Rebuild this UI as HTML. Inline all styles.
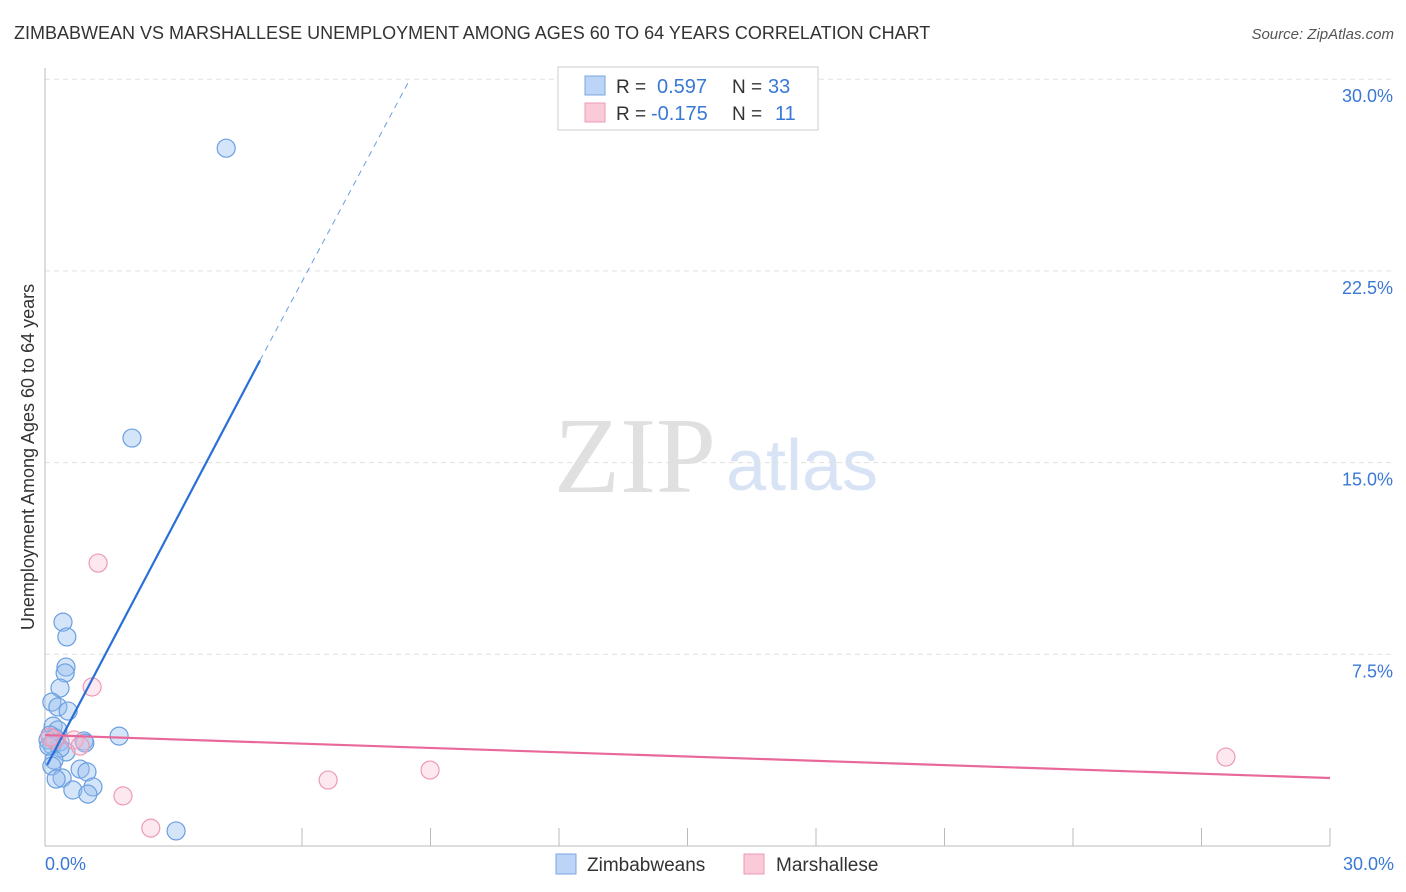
<!DOCTYPE html>
<html><head><meta charset="utf-8"><style>
body{margin:0;background:#fff;font-family:"Liberation Sans",sans-serif;}
svg{display:block}
</style></head><body>
<svg width="1406" height="892" id="chart">
<text x="14" y="39" font-size="18" fill="#333">ZIMBABWEAN VS MARSHALLESE UNEMPLOYMENT AMONG AGES 60 TO 64 YEARS CORRELATION CHART</text>
<text x="1394" y="39" font-size="15" fill="#555" font-style="italic" text-anchor="end">Source: ZipAtlas.com</text>
<text x="635" y="492" font-size="108" fill="#e0e0e0" font-family="Liberation Serif,serif" text-anchor="middle">ZIP</text>
<text x="802" y="490" font-size="72" fill="#d8e4f5" text-anchor="middle">atlas</text>
<text transform="translate(34,457) rotate(-90)" font-size="18" fill="#333" text-anchor="middle">Unemployment Among Ages 60 to 64 years</text>
<g id="grid"></g><g id="marks"></g>
<g>
<rect x="558" y="67" width="260" height="63" fill="#fff" stroke="#ccc"/>
<rect x="585" y="76" width="20" height="19" fill="#bcd4f5" stroke="#7aa6e0"/>
<rect x="585" y="103" width="20" height="19" fill="#fbcad8" stroke="#ee9ab3"/>
<text x="616" y="93" font-size="19" fill="#333">R = <tspan x="657" fill="#3a78d6" font-size="20">0.597</tspan><tspan x="732">N = </tspan><tspan x="768" fill="#3a78d6" font-size="20">33</tspan></text>
<text x="616" y="120" font-size="19" fill="#333">R = <tspan x="651" fill="#3a78d6" font-size="20">-0.175</tspan><tspan x="732">N = </tspan><tspan x="775" fill="#3a78d6" font-size="20">11</tspan></text>
</g>
<g>
<rect x="556" y="854" width="20" height="20" fill="#bcd4f5" stroke="#7aa6e0"/>
<text x="587" y="871" font-size="19" fill="#333">Zimbabweans</text>
<rect x="744" y="854" width="20" height="20" fill="#fbcad8" stroke="#ee9ab3"/>
<text x="776" y="871" font-size="19" fill="#333">Marshallese</text>
</g>
</svg>
<script>
const yTicks=[7.5,15,22.5,30];
const xTickLabels=["0.0%","30.0%"];
const blueX=[4.23,2.03,0.42,0.51,0.49,0.47,0.35,0.16,0.30,0.54,0.19,0.30,0.12,0.23,0.07,0.35,0.16,0.91,0.93,1.73,0.49,0.35,0.21,0.16,0.82,0.98,0.40,0.26,0.65,1.12,1.00,3.06,0.09];
const blueY=[27.3,15.96,8.76,8.18,7.0,6.77,6.18,5.63,5.44,5.28,4.69,4.54,4.34,4.23,4.15,4.07,3.95,4.11,4.03,4.30,3.68,3.83,3.36,3.13,3.01,2.90,2.66,2.62,2.19,2.31,2.03,0.59,3.91];
const pinkX=[1.24,1.10,0.68,0.82,1.82,2.47,6.61,8.99,27.57,0.23,0.12];
const pinkY=[11.07,6.22,4.15,3.91,1.96,0.70,2.58,2.97,3.48,4.15,4.26];
const blueTrend=[0.05,3.17,5.02,19.0,8.52,30.0];
const pinkTrend=[0,4.34,30,2.66];
const X=v=>45+v/30*1285, Y=v=>846-v/7.5*191.7;
const NS="http://www.w3.org/2000/svg";
function mk(tag,attrs,parent){const e=document.createElementNS(NS,tag);for(const k in attrs)e.setAttribute(k,attrs[k]);parent.appendChild(e);return e;}
const g=document.getElementById('grid'),m=document.getElementById('marks');
yTicks.forEach(t=>{
 const l=mk('line',{x1:45,x2:1394,y1:Y(t),y2:Y(t),stroke:'#e0e0e0','stroke-dasharray':'5,4'},g);
 
 
 const tx=mk('text',{x:1393,y:Y(t)+23,'font-size':18,fill:'#3a78d6','text-anchor':'end'},g);tx.textContent=t.toFixed(1)+'%';
 
 
});
mk('line',{x1:45,x2:45,y1:68,y2:846,stroke:'#bbb'},g);
mk('line',{x1:45,x2:1330,y1:846,y2:846,stroke:'#bbb'},g);
for(let i=2;i<=10;i++){const x=45+i*1285/10;const t=mk('line',{x1:x,x2:x,y1:828,y2:846,stroke:'#bbb'},g);}
[[0,'start',45],[30,'end',1394]].forEach((a,i)=>{const t=mk('text',{x:a[2],y:870,'font-size':18,fill:'#3a78d6','text-anchor':a[1]},g);t.textContent=xTickLabels[i];});
blueX.forEach((v,i)=>{const c=mk('circle',{cx:X(v),cy:Y(blueY[i]),r:9,fill:'rgba(150,190,240,0.4)',stroke:'#6a9fe0','stroke-width':1.2},m);
 
 });
pinkX.forEach((v,i)=>{const c=mk('circle',{cx:X(v),cy:Y(pinkY[i]),r:9,fill:'rgba(250,190,210,0.35)',stroke:'#ee9ab3','stroke-width':1.2},m);
 
 });
const b1=mk('line',{x1:X(blueTrend[0]),y1:Y(blueTrend[1]),x2:X(blueTrend[2]),y2:Y(blueTrend[3]),stroke:'#2a6fd6','stroke-width':2.2},m);


const b2=mk('line',{x1:X(blueTrend[2]),y1:Y(blueTrend[3]),x2:X(blueTrend[4]),y2:Y(blueTrend[5]),stroke:'#6a9fe0','stroke-width':1,'stroke-dasharray':'6,5'},m);


const p1=mk('line',{x1:X(pinkTrend[0]),y1:Y(pinkTrend[1]),x2:X(pinkTrend[2]),y2:Y(pinkTrend[3]),stroke:'#e8689a','stroke-width':2.2},m);


</script>
</body></html>
